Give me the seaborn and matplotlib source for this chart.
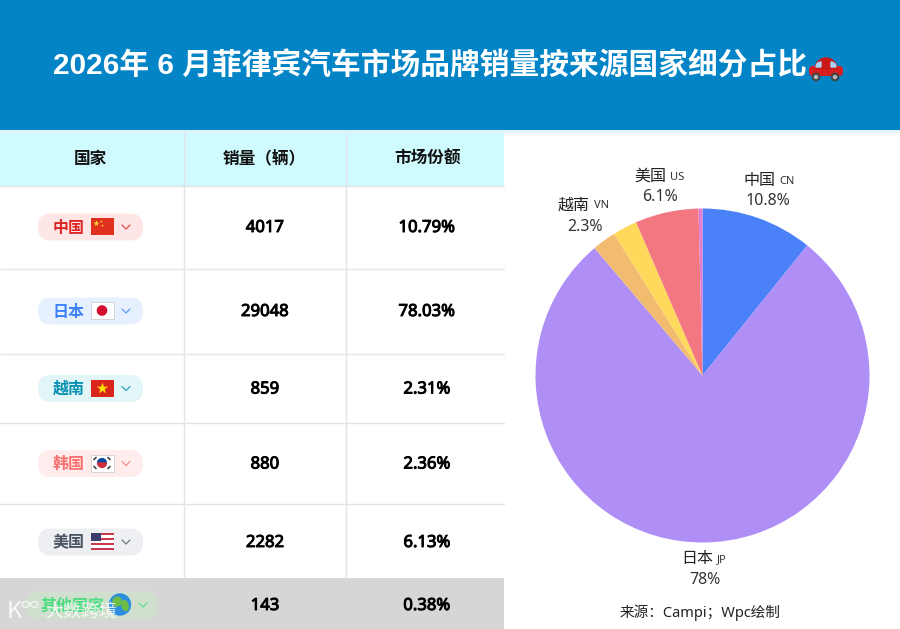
import numpy as np
import matplotlib
matplotlib.use('Agg')
import matplotlib.pyplot as plt
import matplotlib.patheffects as pe
import seaborn as sns
from matplotlib.patches import Rectangle, FancyBboxPatch, Circle, Wedge, Ellipse

# data
title = '2026年 6 月菲律宾汽车市场品牌销量按来源国家细分占比'
headers = ['国家', '销量（辆）', '市场份额']
countries = ['中国', '日本', '越南', '韩国', '美国', '其他国家']
codes = ['CN', 'JP', 'VN', 'KR', 'US', 'OT']
sales = [4017, 29048, 859, 880, 2282, 143]
shares = ['10.79%', '78.03%', '2.31%', '2.36%', '6.13%', '0.38%']
pie_labels = {'CN': '10.8%', 'JP': '78%', 'VN': '2.3%', 'US': '6.1%'}
source = '来源：Campi；Wpc绘制'

# styles
pie_colors = ['#4A80F8', '#AF8EF6', '#F2BC70', '#FFD95C', '#F27781', '#E07FD0']
pill_bg = ['#FEE6E6', '#E6F0FF', '#E2F5F7', '#FFECEC', '#EEEFF2', '#D0DFCE']
pill_fg = ['#DC2626', '#3B82F6', '#0891B2', '#F87171', '#4B5563', '#4ADE80']
row_edges = [186, 268.5, 354, 423, 504, 578, 629]
col_edges = [0, 183.5, 346, 504]
line_col = '#E3E4E7'
latin_cjk = ['Noto Sans', 'Noto Sans CJK SC']
# Noto Sans has no bold face here, so thicken the table numbers with a thin stroke
heavy = [pe.withStroke(linewidth=0.7, foreground='black')]

sns.set_theme(style='white')
plt.rcParams['font.family'] = ['Noto Sans CJK SC', 'DejaVu Sans']

fig = plt.figure(figsize=(9, 6.29), dpi=100, facecolor='white')
bg = fig.add_axes([0, 0, 1, 1])
bg.set_xlim(0, 900)
bg.set_ylim(629, 0)
bg.axis('off')


def rect(x, y, w, h, color, z=1, **kw):
    bg.add_patch(Rectangle((x, y), w, h, facecolor=color, edgecolor='none', zorder=z, **kw))


# flags are small drawings because there is no colour emoji font
def flag(code, x, y):
    w, h = 23, 17
    left, top = x - w / 2, y - h / 2
    if code == 'CN':
        rect(left, top, w, h, '#E0301E', 4)
        bg.scatter([left + 5], [top + 5], marker='*', s=22, color='#FFD83D', zorder=5, linewidths=0)
        bg.scatter([left + 10, left + 11], [top + 3, top + 7], marker='*', s=5, color='#FFD83D', zorder=5, linewidths=0)
    elif code == 'JP':
        rect(left, top, w, h, 'white', 4)
        bg.add_patch(Rectangle((left, top), w, h, facecolor='none', edgecolor='#D5D5D5', lw=0.7, zorder=5))
        bg.add_patch(Circle((x, y), 4.6, color='#D3112E', zorder=5))
    elif code == 'VN':
        rect(left, top, w, h, '#DA251D', 4)
        bg.scatter([x], [y], marker='*', s=75, color='#FFE000', zorder=5, linewidths=0)
    elif code == 'KR':
        rect(left, top, w, h, 'white', 4)
        bg.add_patch(Rectangle((left, top), w, h, facecolor='none', edgecolor='#D5D5D5', lw=0.7, zorder=5))
        bg.add_patch(Wedge((x, y), 4.4, 180, 360, color='#0047A0', zorder=5))
        bg.add_patch(Wedge((x, y), 4.4, 0, 180, color='#CD2E3A', zorder=5))
        for dx, dy in [(-7, -4.5), (7, -4.5), (-7, 4.5), (7, 4.5)]:
            bg.plot([x + dx - 1, x + dx + 1], [y + dy + np.sign(dx * dy), y + dy - np.sign(dx * dy)],
                    color='#444444', lw=1.2, zorder=5)
    elif code == 'US':
        rect(left, top, w, h, 'white', 4)
        for i in range(0, 7, 2):
            rect(left, top + i * h / 7, w, h / 7, '#C8394B', 5)
        rect(left, top, 10, 8, '#3C3B6E', 6)
    else:
        bg.add_patch(Circle((x, y), 10.5, color='#2E8FE0', zorder=4))
        bg.add_patch(Ellipse((x - 3, y - 3), 8, 9, angle=20, color='#6DBE45', zorder=5))
        bg.add_patch(Ellipse((x + 5, y + 1), 6, 10, angle=-15, color='#6DBE45', zorder=5))


# blue banner
rect(0, 0, 900, 130, '#0284C7')
rect(0, 130, 504, 3, '#DDF4FB')
rect(504, 130, 396, 3, '#E6F6FC')
bg.text(430, 66, title, color='white', fontsize=21.4, fontweight='bold', ha='center', va='center', zorder=3,
        family=['Liberation Sans', 'Noto Sans CJK SC'])

# car emoji
car = FancyBboxPatch((809, 66), 34, 10, boxstyle='round,pad=0,rounding_size=4', facecolor='#D81E1E', edgecolor='none', zorder=3)
bg.add_patch(car)
bg.add_patch(Wedge((826, 69), 11, 180, 360, color='#C81818', zorder=3))
bg.add_patch(Wedge((821, 67), 5, 180, 270, color='#A9D3F2', zorder=4))
bg.add_patch(Wedge((831, 67), 5, 270, 360, color='#A9D3F2', zorder=4))
for cx in [816, 835]:
    bg.add_patch(Circle((cx, 77), 3.6, color='#444444', zorder=5))
    bg.add_patch(Circle((cx, 77), 1.5, color='#B8B8B8', zorder=6))

# table
rect(0, 133, 504, 53, '#CFFAFE')
rect(0, 578, 504, 51, '#D6D6D6', 1)
for x in col_edges[1:3]:
    bg.plot([x, x], [133, 578], color=line_col, lw=1.0, zorder=2)
for y in row_edges[:5]:
    bg.plot([0, 504], [y, y], color=line_col, lw=1.0, zorder=2)
for i, h in enumerate(headers):
    cx = [90, 264, 428][i]
    bg.text(cx, 159, h, color='#111111', fontsize=12, fontweight='bold', ha='center', va='center', zorder=3)

row_y = [227, 311, 388.5, 463.5, 542, 605]
for i, name in enumerate(countries):
    y = row_y[i]
    if i < 5:
        x0, w, tx, fx, cx = 38, 105, 68.5, 102, 126
    else:
        x0, w, tx, fx, cx = 25, 133, 72, 120, 143
    bg.add_patch(FancyBboxPatch((x0, y - 13.5), w, 27, boxstyle='round,pad=0,rounding_size=13',
                                facecolor=pill_bg[i], edgecolor='none', zorder=3))
    bg.text(tx, y + 0.5, name, color=pill_fg[i], fontsize=11.5, fontweight='bold', ha='center', va='center', zorder=4)
    flag(codes[i], fx, y - 0.5)
    bg.plot([cx - 4, cx, cx + 4], [y - 2, y + 2, y - 2], color=pill_fg[i], lw=0.9, alpha=0.8, zorder=4)
    bg.text(265, y + 1, str(sales[i]), color='black', fontsize=12, ha='center', va='center', zorder=3,
            family=latin_cjk, path_effects=heavy)
    bg.text(427, y + 1, shares[i], color='black', fontsize=12, ha='center', va='center', zorder=3,
            family=latin_cjk, path_effects=heavy)

# watermark
bg.text(7, 612, 'K', color='white', alpha=0.85, fontsize=17, ha='left', va='center', zorder=8)
bg.text(20, 606, '∞', color='white', alpha=0.85, fontsize=13, ha='left', va='center', zorder=8)
bg.text(45, 612, '大数跨境', color='white', alpha=0.8, fontsize=13, ha='left', va='center', zorder=8)

# pie, clockwise from the top
cx, cy, r = 702.5, 375.5, 167
ax = fig.add_axes([(cx - r) / 900, 1 - (cy + r) / 629, 2 * r / 900, 2 * r / 629])
ax.pie(sales, colors=sns.color_palette(pie_colors), startangle=90, counterclock=False, radius=1,
       wedgeprops={'linewidth': 0})
ax.set_xlim(-1, 1)
ax.set_ylim(-1, 1)
ax.axis('off')

label_pos = {'CN': (775, 180, 201, 768), 'US': (666, 176, 197, 660), 'VN': (590, 205, 227, 585), 'JP': (713, 559, 580, 705)}
for code, (split, y1, y2, xc) in label_pos.items():
    zh = countries[codes.index(code)]
    bg.text(split, y1, zh, color='#222222', fontsize=11.5, ha='right', va='center', zorder=3)
    bg.text(split + 4, y1 + 1, code, color='#333333', fontsize=8, ha='left', va='center', zorder=3, family='Noto Sans')
    bg.text(xc, y2, pie_labels[code], color='#333333', fontsize=11.5, ha='center', va='center', zorder=3, family='Noto Sans')
bg.text(700, 613, source, color='#222222', fontsize=10.5, ha='center', va='center', zorder=3, family=latin_cjk)

fig.savefig('out.png', dpi=100)
